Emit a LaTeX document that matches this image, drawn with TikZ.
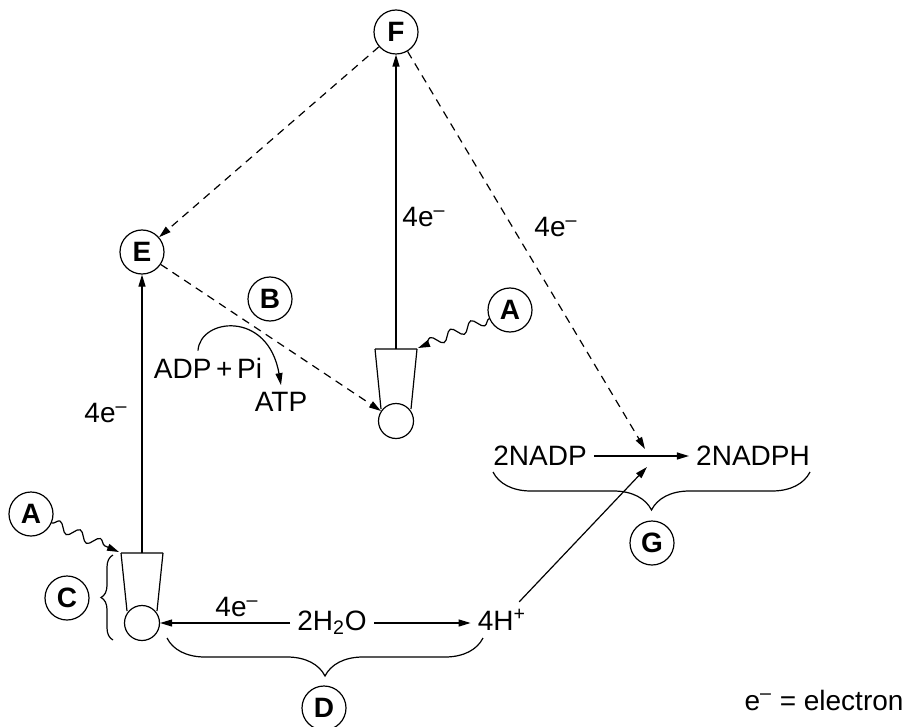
\documentclass[tikz,border=0pt]{standalone}
\usepackage{fontspec}
\setmainfont{Liberation Sans}
\usetikzlibrary{arrows.meta,decorations.pathmorphing,decorations.pathreplacing}

\begin{document}
\begin{tikzpicture}[x=0.5pt,y=-0.5pt,
    font=\fontsize{14}{17}\selectfont,
    line width=0.6pt,
    letter/.style={draw, circle, minimum size=22pt, inner sep=0pt, font=\fontsize{14}{17}\selectfont\bfseries},
    pscircle/.style={draw, circle, minimum size=17.5pt, inner sep=0pt},
    arr/.style={-{Triangle[length=6pt,width=3.5pt]}},
    darr/.style={arr, dash pattern=on 4pt off 3pt},
    wave/.style={arr, decorate, decoration={snake, amplitude=2.5pt, segment length=11pt, post length=4pt}},
    bigbrace/.style={decorate, decoration={brace, amplitude=19pt}},
    smallbrace/.style={decorate, decoration={brace, amplitude=6pt}}]

    \useasboundingbox (0,0) rectangle (909,727);

    % Letters

    \node[letter] (F) at (396,32) {F};
    \node[letter] (E) at (142,252) {E};
    \node[letter] (B) at (270,299) {B};
    \node[letter] (Ar) at (510,310) {A};
    \node[letter] (Al) at (31,514) {A};
    \node[letter] (C) at (67,598) {C};
    \node[letter] (D) at (324,708) {D};
    \node[letter] (G) at (652,543) {G};

    % Photosystems

    \node[pscircle] (psR) at (396,421) {};
    \node[pscircle] (psL) at (142,623) {};
    \draw (375,349) -- (417,349) (375,349) -- (381,409) (417,349) -- (411,409);
    \draw (121,553) -- (163,553) (121,553) -- (127,611) (163,553) -- (157,611);
    \coordinate (psRtop) at (396,349);
    \coordinate (psLtop) at (142,553);
    \coordinate (psRcorner) at (418,348);
    \coordinate (psLcorner) at (119,552);

    % Texts

    \node (adp) at (208,368) {ADP\,+\,Pi};
    \node (atp) at (281,402) {ATP};
    \node (nadp) at (540,456) {2NADP};
    \node (nadph) at (753,456) {2NADPH};
    \node (h2o) at (332,623) {2H\textsubscript{2}O};
    \node (hplus) at (502,620) {4H\textsuperscript{+}};
    \node (eUp) at (424,217) {4e\textsuperscript{–}};
    \node (eDash) at (556,227) {4e\textsuperscript{–}};
    \node (eLeft) at (106,413) {4e\textsuperscript{–}};
    \node (eBot) at (237,607) {4e\textsuperscript{–}};
    \node (key) at (824,700) {e\textsuperscript{–} = electron};
    \coordinate (nadpTop) at (645,449);
    \coordinate (nadpBot) at (647,467);

    % Edges

    \draw[arr] (psRtop) -- (F);
    \draw[arr] (psLtop) -- (E);
    \draw[darr] (F) -- (E);
    \draw[darr] (E) -- (psR);
    \draw[darr] (F) -- (nadpTop);
    \draw[arr] (nadp) -- (nadph);
    \draw[arr] (h2o) -- (psL);
    \draw[arr] (h2o.east) -- (h2o.east -| hplus.west);
    \draw[arr] (hplus) -- (nadpBot);
    \draw[wave] (Ar) -- (psRcorner);
    \draw[wave] (Al) -- (psLcorner);
    \draw[arr] ([xshift=-5pt]adp.north) .. controls (200,318) and (268,310) .. (atp.north);

    % Braces

    \draw[bigbrace] (483,638) -- (167,638);
    \draw[bigbrace] (810,472) -- (493,472);
    \draw[smallbrace] (113,640) -- (113,555);

\end{tikzpicture}
\end{document}
